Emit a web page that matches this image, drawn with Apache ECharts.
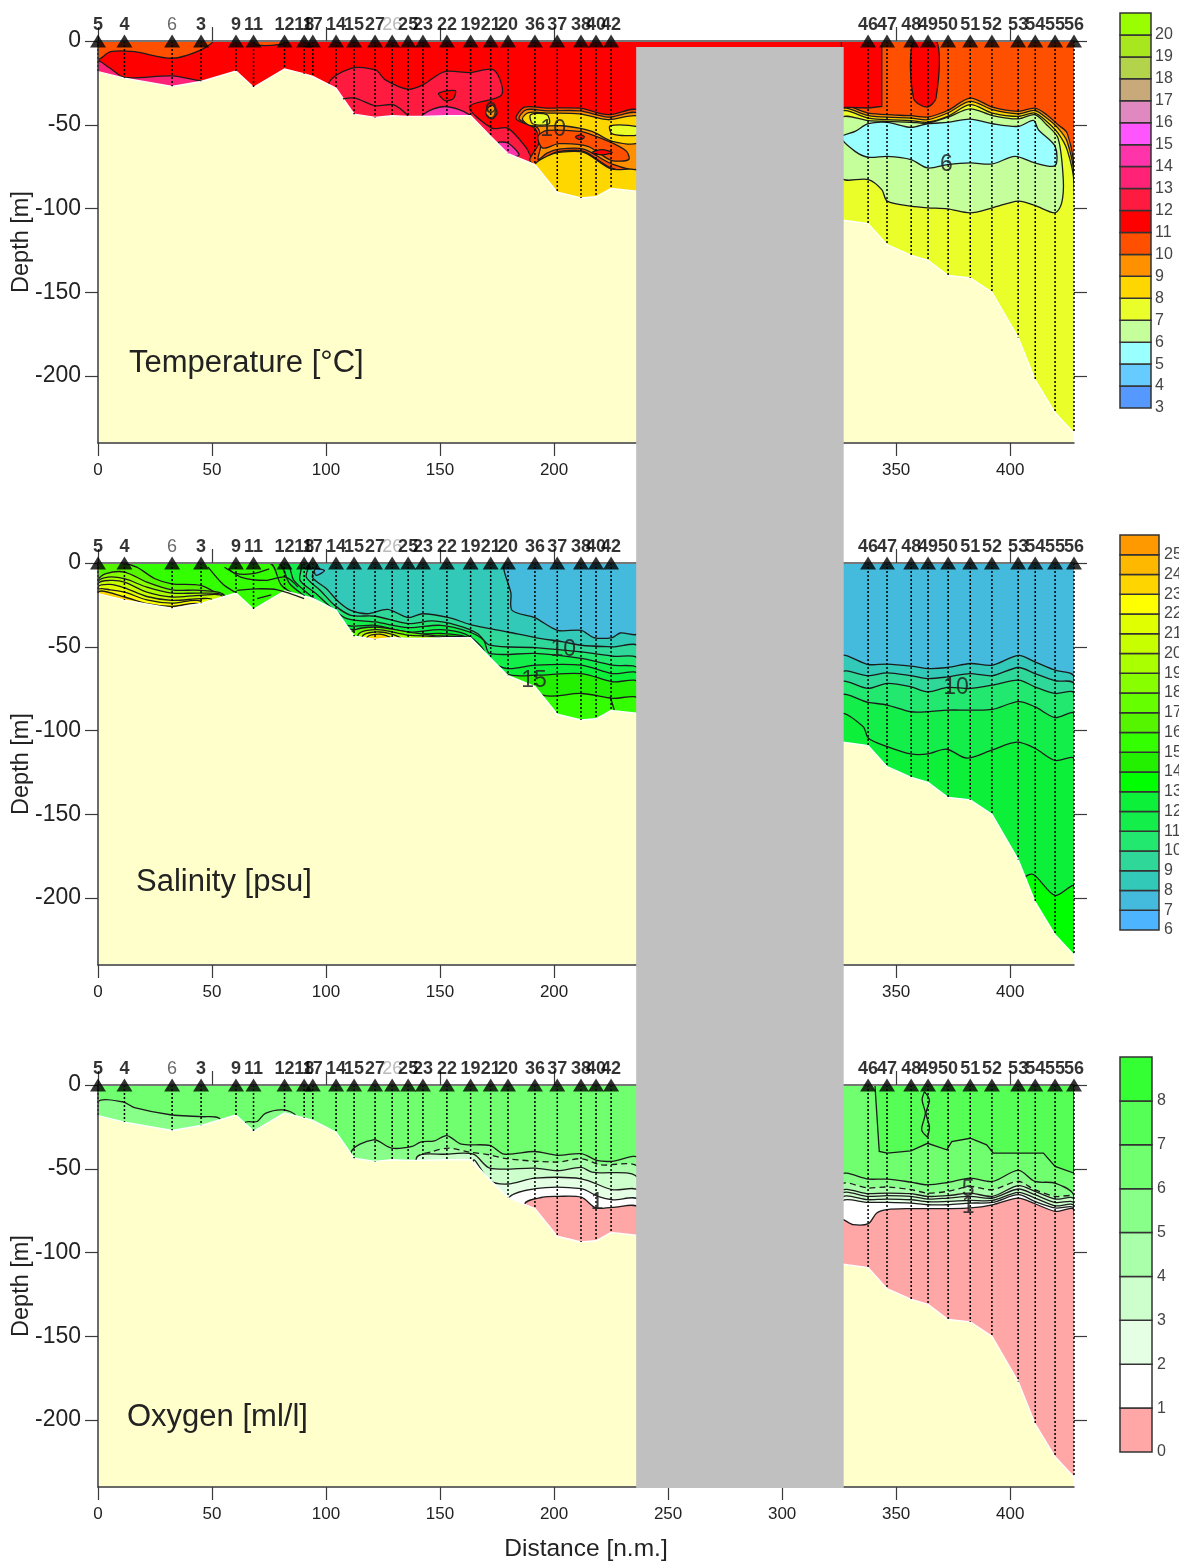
<!DOCTYPE html>
<html><head><meta charset="utf-8">
<style>html,body{margin:0;padding:0;background:#fff}#c{width:1179px;height:1562px}</style>
<script src="https://cdn.jsdelivr.net/npm/echarts@6/dist/echarts.min.js"></script>
</head><body><div id="c"></div>
<script>
// ---------- stations ----------
const stationLabels = ['5','4','6','3','9','11','12','18','17','14','15','27','26','25','23','22','19','21','20','36','37','38','40','42','46','47','48','49','50','51','52','53','54','55','56'];
const stationDist = [0,11.6,32.5,45.2,60.5,68.2,81.8,90.4,94.2,104.4,112.3,121.5,129,136,142.5,153,163.4,172.2,179.8,191.6,201.4,211.8,218.4,225,337.7,346,356.6,364,372.8,382.5,392,403.5,411,419.7,428];
const stationDepth = [18,22,27,24,18,27.5,16.7,19.6,21,28,43.7,45.6,44.6,45,45,44.6,44.6,57,67,73.8,90.3,93.7,93,88,109,121.6,128,131,140,141.4,150,177,202.5,222,234];
const seafloorDist = [0,11.6,32.5,45.2,60.5,68.2,81.8,90.4,94.2,104.4,112.3,121.5,129,136,142.5,153,163.4,172.2,179.8,191.6,201.4,211.8,218.4,225,236,326.8,337.7,346,356.6,364,372.8,382.5,392,403.5,411,419.7,428];
const seafloorDepth = [18.3,22.2,27.2,24.2,17.9,27.6,16.7,19.6,21.2,28.2,43.7,45.6,44.6,45,45,44.6,44.6,57,67.3,73.8,90.3,93.7,93,88,89.7,107,109,121.6,128,131,140,141.4,150,177,202.5,222,234];
const gapRange = [236, 327];
const xTicks = [0,50,100,150,200,250,300,350,400];
const xTopTicks = [0,50,100,150,200,350,400];
const yTicks = [0,-50,-100,-150,-200];

// ---------- legends (lowest level first) ----------
const tempLevels = [3,4,5,6,7,8,9,10,11,12,13,14,15,16,17,18,19,20];
const tempColors = ['#5599ff','#66ccff','#99ffff','#c4ff9c','#eaff2a','#ffd700','#ff9000','#ff5000','#ff0000','#ff1a40','#ff2277','#ff33aa','#ff55ff','#e088c0','#c8a97a','#b3d44a','#a8e61d','#99ff00'];
const salLevels = [6,7,8,9,10,11,12,13,14,15,16,17,18,19,20,21,22,23,24,25];
const salColors = ['#4db5ff','#44bbdd','#33c9b8','#2fd898','#22e870','#14ee4a','#0cf03a','#00ff00','#22f000','#33ff00','#55f500','#66ff00','#88ff00','#aaff00','#c8ff00','#e0ff00','#ffff00','#ffd500','#ffb800','#ff9900'];
const oxyLevels = [0,1,2,3,4,5,6,7,8];
const oxyColors = ['#ffa6a6','#ffffff','#e5ffe5','#ccffcc','#aaffaa','#88ff88','#6fff6f','#55ff55','#33ff33'];
const T = l => tempColors[tempLevels.indexOf(l)];
const S = l => salColors[salLevels.indexOf(l)];
const O = l => oxyColors[oxyLevels.indexOf(l)];

// ---------- temperature contours [distance, depth] ----------
const tempTopLeft10 = [[0,0],[50,0],[45,5.4],[32.5,10.3],[16,6.4],[5.5,6.4],[0,10.9]];
const tempSliver10 = [[68,0],[70,2.5],[80,2],[84,0]];
const tempLowLeft12 = [[0,12.3],[5,16],[11.6,21.8],[32.4,20.8],[45,23.8],[55,25],[55,40],[0,40]];
const tempBlob12 = [[101,26.2],[111,16.3],[121.7,17.3],[126,23.2],[136,28.8],[142.4,26.2],[152,18.3],[162.9,18.9],[173.6,17.3],[177,32.1],[162.9,39.1],[172.7,52],[179.7,52],[187.9,63.9],[189.7,68.8],[191.7,72.8],[191.7,100],[101,100]];
const tempLine13 = [[107.4,34.5],[112.7,34.1],[121.7,38.7],[129.7,38.1],[136,44.6]];
const tempLens14 = [[142.4,44],[152,39.1],[162.9,44],[162.9,50],[142.4,50]];
const tempIsland11 = [[149.4,31.2],[156.6,29.6],[156,34.1],[153,35.7],[151.2,34.7]];
const tempDiamond9 = [[172.7,38.1],[175,42.7],[172.7,46.6],[170,42.7]];
const tempPink14 = [[175.4,60.9],[179.7,60.9],[184.7,67.9],[180.7,68.8]];
const tempOuter10 = [[183.4,46.6],[187,39.5],[196.9,40.1],[211.2,40.1],[223.7,44],[237,41.7],[237,77.8],[225,75.8],[213,65.9],[202.2,65.9],[196.9,68.8],[191.7,73.8],[189.3,70.8],[193.3,60.9],[191.5,52]];
const tempShell9 = [[184.7,46.6],[187.9,41],[196.9,41.7],[211.2,41.7],[223.7,45.4],[237,43.5],[237,75.8],[225,73.2],[213,64.5],[202.2,64.5],[196.9,66.9],[193,70.8],[194.2,61.9],[192.9,52]];
const tempInner10 = [[192.9,57],[196.9,53.4],[211.2,54],[216.6,56],[225.5,60.9],[231.8,65.9],[232.7,70.8],[225,71.2],[214.8,62.9],[202.2,61.3],[195,63.9]];
const tempGold8 = [[186.1,46.6],[188.8,42.7],[196.9,43],[211.2,43.5],[223.7,47],[237,45],[237,60.5],[225.5,59.9],[216.6,54],[204,50.6],[189.7,50.6]];
const tempBlob7a = [[189.7,44],[196.9,44],[197.8,49.4],[190.6,49.4]];
const tempBlob7b = [[224.6,50.6],[237,51.4],[237,56],[225.5,55.4]];
const tempGoldBottom = [[191.7,73.8],[196.9,68.8],[202.2,66.5],[213,66.5],[225,76.4],[237,77.8],[237,100],[191.7,100]];
const tempSpotA = [[216.6,66.5],[221,64.9],[225.5,66.5],[221,68]];
const tempSpotB = [[209.4,57.3],[211.5,56],[213.3,57.3],[211.5,58.9]];
const tempRightNodes = [326,337.8,346.1,356.5,363.8,372.6,382.5,392.2,403.6,410.8,416,421,425,428];
const tempRight9 = [40,43,44,44.6,45.4,41.5,34.1,39.5,42,40.1,44,50,55,77];
const tempRight8 = [41.5,44.5,45.5,46,47,43,36,41,43.5,41.5,46,52,60,81];
const tempRight7 = [43,46,47,47.5,48.5,45,38,43,45,43,48,55,65,85];
const tempRight6Top = [46,47.5,48,48.5,49,45.5,40.5,44.5,46.5,44,50,58];
const tempRight6Low = [[423.3,82.7],[422.6,96.6],[419.7,102.6],[410.8,98.2],[403.6,95.6],[392.2,99.6],[382.5,102.6],[372.6,100.2],[363.8,99.6],[356.5,98.6],[346.1,95.6],[343.7,88.7],[337.8,82.7],[326,81.7]];
const tempCyan5 = [[326,57.5],[332,54],[337.8,49.4],[346.1,48.6],[356.5,51.6],[363.8,49.4],[372.6,48.6],[382.5,46.6],[392.2,49.4],[403.6,51],[410.2,47.4],[412.4,53],[419.7,62.9],[419.7,74.4],[410.8,72.8],[402.1,68.9],[392.2,73.4],[382.5,72.8],[372.6,73.8],[363.8,75.8],[356.5,70.8],[346.1,68.9],[337.8,69.4],[332,65.9]];
const tempRed11A = [[326,0],[343.7,0],[343.7,39.1],[337.8,40],[326,39.5]];
const tempRed11B = [[357.6,0],[367.8,0],[367.5,34.1],[363.4,39.5],[357.6,34.1]];
const tempNotes = [[172.4,43,'9'],[199.6,53,'10'],[372,73.8,'6']];

// ---------- salinity contours ----------
const salBlue7Left = [[179,0],[181.1,18.3],[181.6,28.3],[191.5,32.6],[201.5,40.2],[211.9,40.2],[217.4,44.5],[225.5,44.5],[229,41.8],[237,41.8],[237,0]];
const salSpot7 = [[94.8,3.5],[99.3,4.5],[95.7,7.4]];
const sal9 = [[95.7,0],[94,8.4],[100.2,15.4],[105.6,23.3],[110.9,28.3],[118.1,30.3],[127,27.7],[136,32.6],[142.4,30.3],[153.9,32.6],[162.9,36.6],[171.8,39.2],[179.7,41.2],[191.7,44.5],[204,47.1],[211.9,49.1],[225.5,50.1],[237,50.5]];
const sal10 = [[92.1,0],[91.3,8.4],[97.5,16.4],[103.8,25.3],[110.9,31.2],[121.7,31.8],[136,36.2],[146.7,34.6],[157.5,37.2],[166.4,42.1],[171.8,49.1],[191.7,50.5],[211.9,53],[225.5,55.6],[237,58]];
const sal11 = [[88.6,0],[88.6,10.4],[95.7,18.3],[102,26.3],[109.2,33.2],[121.7,35.2],[136,38.6],[150.3,37.2],[162.9,41.2],[169.1,46.1],[171.8,54],[191.7,54],[211.9,57],[225.5,61],[237,64]];
const sal12 = [[82.3,0],[85.9,10.4],[93,19.3],[100.2,27.3],[109.2,37.2],[121.7,37.2],[136,41.2],[150.3,39.8],[161.1,42.5],[168.2,50.1],[171.8,58.4],[179.7,63],[191.7,61],[211.9,61],[225.5,66],[237,67]];
const sal13 = [[78.7,0],[84.1,12.4],[91.3,20.3],[98.4,26.7],[109.2,39.2],[121.7,39.2],[136,42.5],[150.3,42.1],[161.1,44.1],[168.2,53],[179.7,66.4],[191.7,67],[211.9,66],[225.5,70.9],[237,71.9]];
const sal14 = [[75.1,0],[80.5,13.4],[89.5,21.3],[96.6,26.7],[110.9,41.2],[136,44.1],[161.1,45.1],[171.8,60],[195,78.9],[211.9,77.9],[225.5,80.8],[237,81.8]];
const salLens16 = [[0,0],[10.7,0],[17,2.5],[25,9.4],[32.4,12.4],[45.1,13.4],[53.7,19.3],[59,22.3],[60,40],[0,40]];
const salLens17 = [[0,10.4],[3.5,6.4],[11.6,5.4],[21.4,11.4],[32.4,16],[45.1,16.4],[55.5,19.3],[55.5,40],[0,40]];
const salLens18 = [[0,11.4],[4.4,8.4],[11.6,9.4],[21.4,14.4],[32.4,18],[45.1,18],[55.5,19.7],[55.5,40],[0,40]];
const salLens19 = [[0,12.4],[5.3,10.4],[11.6,11.4],[21.4,17.4],[32.4,20.3],[45.1,19.3],[54.6,20],[54.6,40],[0,40]];
const salLens20 = [[0,14.4],[5.3,12.8],[11.6,14.8],[21.4,20],[32.4,22.3],[45.1,21.3],[50,22],[50,40],[0,40]];
const salLens21 = [[0,16],[5.3,16],[11.6,17.4],[21.4,22],[32.4,24],[45.1,23],[45.1,40],[0,40]];
const salLens22 = [[0,17.4],[11.6,20.3],[21.4,24.3],[32.4,25.9],[45.1,24.7],[45.1,40],[0,40]];
const salMass16 = [[110.9,41.2],[121.7,38.2],[136,41.2],[150.3,43.7],[162.9,44.5],[162.9,50],[110.9,50]];
const salMass18 = [[114.5,42.1],[122.6,39.8],[136,43.1],[150.3,44.7],[150.3,50],[114.5,50]];
const salMass20 = [[116.3,43.1],[123.5,41.2],[132.4,44.5],[132.4,50],[116.3,50]];
const salMass22 = [[118.1,44.1],[123.5,42.5],[128.8,45.1],[128.8,50],[118.1,50]];
const salExtraA = [[57.2,3.5],[62.6,8.4],[73.4,10.4],[82.3,8.4],[87.7,14.4]];
const salExtraB = [[60.8,16.4],[68.9,15.4],[78.7,16],[90.4,21.3]];
const salExtraC = [[55.5,2.5],[60.8,6.4],[68,6.4],[75.1,3.5]];
const salExtraD = [[48.3,2.5],[54.6,12.4],[60,17.4]];
const salExtraE = [[69.8,21.3],[76,19]];
const salExtraF = [[224.6,79.8],[226.4,87.8]];
const rightNodes = [326,337.8,346.1,356.5,363.8,372.6,382.5,392.2,403.6,410.8,419.7,428];
const salRight8 = [56.4,60.6,60.4,61.6,63,62.4,60,61,55.1,59,64,68];
const salRight9 = [66,67.3,65.6,67.3,69,68,66,67.3,62.4,66,70.3,72.3];
const salRight10 = [71.9,74.9,71.9,73.9,76.9,74.3,74.9,72.9,69.9,73.9,77.9,77.9];
const salRight11 = [79.8,83.2,84.8,88.8,88.8,87.8,87.8,87.4,82.8,85.8,92.3,90.2];
const salRight12 = [[326,90.8],[335.6,97.7],[337.8,104.6],[346.1,109.6],[356.5,114],[363.8,114],[372.2,111.2],[381,116.5],[392.2,111.6],[402.9,107],[410.8,110.6],[419.7,117.9],[428,117.1]];
const salRight13 = [[406.5,188],[410.2,186],[419.7,198.5],[428,193]];
const salNotes = [[204,51.5,'10'],[191.2,70,'15'],[376.3,74.7,'10']];

// ---------- oxygen contours ----------
const oxyLeft5a = [[0,10.5],[10.7,10],[16,13.5],[32.4,17.9],[45.1,18.9],[53.7,20.8],[53.7,60],[0,60]];
const oxyLeft5b = [[64.4,22.8],[69.8,21.8],[73.4,16.9],[81.4,14.9],[86.8,18.9],[86.8,60],[64.4,60]];
const oxyLeft5c = [[110.9,40.7],[120.8,32.7],[128.8,37.7],[137.8,36.7],[141.4,34.1],[147.6,33.3],[153,30.2],[159.3,35.3],[171.8,36.1],[178.1,41.3],[191.5,39.7],[201.5,42],[211.9,41],[219.2,45.2],[225.5,45.6],[237,44],[237,120],[110.9,120]];
const oxyLeft4 = [[139.6,44],[146.7,39.7],[153.9,37.7],[162.9,40.1],[171.8,41.7],[179,44],[201.5,46],[211.9,44],[220.1,47.6],[237,49.6],[237,120],[139.6,120]];
const oxyLeft3 = [[139.6,44],[153,41.3],[164.6,41.3],[171.8,49.6],[191.7,49.6],[201.5,51.2],[211.9,49.2],[216.6,52],[237,56],[237,120],[139.6,120]];
const oxyLeft2 = [[164.6,45.2],[171.8,57.1],[179.7,59.1],[191.7,55.6],[211.9,56],[225.5,62.5],[237,63.5],[237,120],[164.6,120]];
const oxyLeft1 = [[179.7,68.5],[191.7,61.9],[211.9,61.9],[219.2,66.5],[225.5,68.5],[237,68.9],[237,120],[179.7,120]];
const oxyLeft0 = [[187,71.4],[195.1,67],[201.5,66.5],[211.9,67],[218.4,73.4],[225.5,73],[237,73.4],[237,120],[187,120]];
const oxyRight7 = [[340.7,0],[342.6,39.7],[346.1,40.7],[356.5,39.3],[363.8,34.8],[372.2,38.7],[374.4,33.8],[382.5,31.8],[389.7,35.7],[392.6,40.7],[414.6,40.7],[419.7,48.6],[428,52.6],[428,0]];
const oxyCellA = [[362.4,4],[364.6,9],[363.1,16.9],[364.6,24.8],[363.8,31.2]];
const oxyCellB = [[362.4,4],[361.4,9],[362.8,16.9],[361.2,26.8],[363.8,31.2]];
const oxyRight5 = [54.2,56.2,56.2,58,59.6,58.2,55.6,57.6,51,57.6,58.6,66.5];
const oxyRight4 = [60.1,61.5,60.9,62.5,64.5,63.5,60.6,62.5,57.6,62.5,66.5,67.5];
const oxyRight3 = [64.1,64.9,64.5,64.9,66.5,66.1,64.5,66.5,60.1,63.5,68.1,68.5];
const oxyRight2a = [65.7,66.5,66.1,66.5,68.1,67.5,66.5,67.5,62.1,65.5,70.1,70.9];
const oxyRight2 = [68.1,68.5,68.1,68.5,69.7,69.5,68.9,68.9,64.1,67.5,72.1,72.5];
const oxyRight1 = [70.5,70.1,70.1,70.5,71.5,71.5,70.5,70.1,65.5,69.5,73.4,74];
const oxyRight0 = [[326,80.8],[331.2,83.4],[337.8,82.8],[341.5,76.4],[346.1,74.4],[356.5,73.8],[363.8,73.8],[372.6,73.8],[382.5,73.4],[392.2,71.5],[403.6,67.5],[410.8,70.9],[419.7,75.4],[428,74.8]];
const oxyNotes = [[218.9,70,'1'],[381.6,62.5,'5'],[381.6,72.6,'1']];

// ---------- geometry of the page ----------
const panelTops = [41, 563, 1085];
const PH = 402, PL = 98, PW = 976;
const legends = [
  {top:13, h:395, left:1120, w:31, margin:4, levels:tempLevels, colors:tempColors},
  {top:535,h:395, left:1120, w:39, margin:5, levels:salLevels,  colors:salColors},
  {top:1057,h:395,left:1120, w:32, margin:5, levels:oxyLevels,  colors:oxyColors}
];

// ---------- helpers ----------
const zip = (xs, ds) => ds.map((d,i)=>[xs[i],d]);
const below = (line, deep) => [...line,[line[line.length-1][0],deep],[line[0][0],deep]];
const belowAll = line => [...line,[line[line.length-1][0],240],[0,240],[0,0]];
const STROKE = '#1c1c1c';
const SMOOTH = 0.3;
const series = [];
function poly(p, pts, fill, o) {
  o = o || {};
  series.push({type:'custom', xAxisIndex:p, yAxisIndex:p, z:2, silent:true, data:[[0,0]], clip:true,
    renderItem:(params,api)=>({type:'polygon', shape:{points:pts.map(q=>api.coord([q[0],-q[1]])), smooth:o.sharp?0:SMOOTH},
      style:{fill:fill, stroke:o.noStroke?null:(o.stroke||STROKE), lineWidth:o.lw||1.3, lineDash:o.dash||null}})});
}
function line(p, pts, o) {
  o = o || {};
  series.push({type:'custom', xAxisIndex:p, yAxisIndex:p, z:3, silent:true, data:[[0,0]], clip:true,
    renderItem:(params,api)=>({type:'polyline', shape:{points:pts.map(q=>api.coord([q[0],-q[1]])), smooth:SMOOTH},
      style:{fill:null, stroke:STROKE, lineWidth:o.lw||1.3, lineDash:o.dash||null}})});
}
function rect(p, x0, x1, color) { poly(p, [[x0,0],[x1,0],[x1,240],[x0,240]], color, {noStroke:true, sharp:true}); }
function notes(p, arr) {
  series.push({type:'custom', xAxisIndex:p, yAxisIndex:p, z:6, silent:true, data:arr.map(a=>[a[0],-a[1]]),
    renderItem:(params,api)=>{
      const c = api.coord([api.value(0),api.value(1)]);
      return {type:'text', style:{x:c[0],y:c[1],text:arr[params.dataIndex][2],fill:'#222',font:'23px "Liberation Sans"',align:'center',verticalAlign:'middle',opacity:0.85}};
    }});
}
const floorPoly = [[0,240],...seafloorDist.map((x,i)=>[x,seafloorDepth[i]]),[428,240]];
function finish(p) {
  poly(p, floorPoly, '#ffffcc', {stroke:'#ffffff', lw:1.4, sharp:true});
  // station casts
  series.push({type:'custom', xAxisIndex:p, yAxisIndex:p, z:5, silent:true, data:stationDist.map((x,i)=>[x,-stationDepth[i]]),
    renderItem:(params,api)=>{
      const a = api.coord([api.value(0),0]), b = api.coord([api.value(0),api.value(1)]);
      return {type:'line', shape:{x1:a[0],y1:a[1],x2:b[0],y2:b[1]}, style:{stroke:'#000',lineWidth:1.5,lineDash:[2,2]}};
    }});
  // station triangles with labels
  series.push({type:'scatter', xAxisIndex:p, yAxisIndex:p, z:12, silent:true, clip:false, symbol:'triangle', symbolSize:[16,13], symbolOffset:[0,0],
    itemStyle:{color:'#000'},
    data:stationDist.map((x,i)=>{
      const l = stationLabels[i];
      const weak = l==='6' ? {color:'#444',fontWeight:'normal'} : l==='26' ? {color:'#aaa',fontWeight:'normal'} : {};
      return {value:[x,0], label:Object.assign({show:true,formatter:l,position:'top',distance:0,color:'#000',fontSize:18,fontWeight:'bold',fontFamily:'"Liberation Sans"'},weak)};
    })});
}

// ---------- panel 0: temperature ----------
rect(0,0,428,T(11));
poly(0,tempTopLeft10,T(10)); poly(0,tempSliver10,T(10));
poly(0,tempLowLeft12,T(13));
poly(0,tempBlob12,T(12)); line(0,tempLine13);
poly(0,tempLens14,T(14)); poly(0,tempIsland11,T(11)); poly(0,tempDiamond9,T(9)); poly(0,tempPink14,T(14));
poly(0,tempOuter10,T(10)); poly(0,tempShell9,T(9)); poly(0,tempInner10,T(10)); poly(0,tempGold8,T(8));
poly(0,tempBlob7a,T(7)); poly(0,tempBlob7b,T(7)); poly(0,tempGoldBottom,T(8));
poly(0,tempSpotA,T(11)); poly(0,tempSpotB,T(11));
rect(0,326,428,T(10));
poly(0,below(zip(tempRightNodes,tempRight9),240),T(9));
poly(0,below(zip(tempRightNodes,tempRight8),240),T(8));
poly(0,below(zip(tempRightNodes,tempRight7),240),T(7));
poly(0,[...zip(tempRightNodes,tempRight6Top),...tempRight6Low],T(6));
poly(0,tempCyan5,T(5));
poly(0,tempRed11A,T(11),{sharp:true}); poly(0,tempRed11B,T(11));
finish(0); notes(0,tempNotes);

// ---------- panel 1: salinity ----------
rect(1,0,237,S(8));
poly(1,salBlue7Left,S(7)); poly(1,salSpot7,S(7));
poly(1,belowAll(sal9),S(9)); poly(1,belowAll(sal10),S(10)); poly(1,belowAll(sal11),S(11));
poly(1,belowAll(sal12),S(12)); poly(1,belowAll(sal13),S(14)); poly(1,belowAll(sal14),S(15));
poly(1,salLens16,S(16)); poly(1,salLens17,S(18)); poly(1,salLens18,S(19)); poly(1,salLens19,S(20));
poly(1,salLens20,S(21)); poly(1,salLens21,S(22)); poly(1,salLens22,S(23));
poly(1,salMass16,S(17)); poly(1,salMass18,S(19)); poly(1,salMass20,S(21)); poly(1,salMass22,S(23));
[salExtraA,salExtraB,salExtraC,salExtraD,salExtraE,salExtraF].forEach(l=>line(1,l));
rect(1,326,428,S(7));
poly(1,below(zip(rightNodes,salRight8),240),S(8));
poly(1,below(zip(rightNodes,salRight9),240),S(9));
poly(1,below(zip(rightNodes,salRight10),240),S(10));
poly(1,below(zip(rightNodes,salRight11),240),S(11));
poly(1,below(salRight12,240),S(12));
poly(1,below(salRight13,240),S(13));
finish(1); notes(1,salNotes);

// ---------- panel 2: oxygen ----------
rect(2,0,428,O(6));
poly(2,oxyLeft5a,O(5)); poly(2,oxyLeft5b,O(5)); poly(2,oxyLeft5c,O(5));
poly(2,oxyLeft4,O(4),{dash:[6,4]}); poly(2,oxyLeft3,O(3)); poly(2,oxyLeft2,O(2)); poly(2,oxyLeft1,O(1)); poly(2,oxyLeft0,O(0));
poly(2,oxyRight7,O(7),{sharp:true});
line(2,oxyCellA); line(2,oxyCellB);
poly(2,below(zip(rightNodes,oxyRight5),240),O(5));
poly(2,below(zip(rightNodes,oxyRight4),240),O(4),{dash:[6,4]});
poly(2,below(zip(rightNodes,oxyRight3),240),O(3));
poly(2,below(zip(rightNodes,oxyRight2a),240),O(3));
poly(2,below(zip(rightNodes,oxyRight2),240),O(2));
poly(2,below(zip(rightNodes,oxyRight1),240),O(1));
poly(2,below(oxyRight0,240),O(0));
finish(2); notes(2,oxyNotes);

// ---------- legends ----------
legends.forEach((L,k)=>{
  const ax = 6+k;
  series.push({type:'custom', xAxisIndex:ax, yAxisIndex:ax, z:2, silent:true,
    data:L.levels.map(v=>[0,v]),
    renderItem:(params,api)=>{
      const v = api.value(1);
      const a = api.coord([0,v+1]), b = api.coord([1,v]);
      return {type:'rect', shape:{x:a[0],y:a[1],width:b[0]-a[0],height:b[1]-a[1]},
        style:{fill:L.colors[params.dataIndex], stroke:'#333', lineWidth:1.5}};
    }});
});

// ---------- grey data gap ----------
series.push({type:'custom', xAxisIndex:9, yAxisIndex:9, z:20, silent:true, data:[[gapRange[0],0]],
  renderItem:(params,api)=>{
    const a = api.coord([gapRange[0],1]), b = api.coord([gapRange[1],0]);
    return {type:'rect', shape:{x:a[0],y:a[1],width:b[0]-a[0],height:b[1]-a[1]}, style:{fill:'#c0c0c0'}};
  }});

// ---------- axes ----------
const axisColor = '#3a3a3a';
const grid=[], xAxis=[], yAxis=[];
const gridBase = {outerBoundsMode:'none', containLabel:false};
panelTops.forEach(t=>grid.push({...gridBase,left:PL, top:t, width:PW, height:PH}));
panelTops.forEach(t=>grid.push({...gridBase,left:PL, top:t, width:PW, height:PH}));
legends.forEach(L=>grid.push({...gridBase,left:L.left, top:L.top, width:L.w, height:L.h}));
grid.push({...gridBase,left:PL, top:47, width:PW, height:1441});

panelTops.forEach((t,i)=>{
  xAxis.push({type:'value', gridIndex:i, position:'bottom', min:0, max:428, z:10, splitLine:{show:false},
    axisLine:{show:true,onZero:false,lineStyle:{color:axisColor,width:1.5}},
    axisTick:{show:true,length:13,customValues:xTicks,lineStyle:{color:axisColor,width:1.2}},
    axisLabel:{show:true,customValues:xTicks,fontSize:17,color:'#222',margin:19,fontFamily:'"Liberation Sans"'},
    name:i===2?'Distance [n.m.]':'', nameLocation:'middle', nameGap:50,
    nameTextStyle:{fontSize:24.5,color:'#222',fontFamily:'"Liberation Sans"'}});
  yAxis.push({type:'value', gridIndex:i, position:'left', min:-240, max:0, z:10, splitLine:{show:false},
    axisLine:{show:true,onZero:false,lineStyle:{color:axisColor,width:1.5}},
    axisTick:{show:true,length:13,customValues:yTicks,lineStyle:{color:axisColor,width:1.2}},
    axisLabel:{show:true,customValues:yTicks,fontSize:23,color:'#222',margin:17,fontFamily:'"Liberation Sans"'},
    name:'Depth [m]', nameLocation:'middle', nameRotate:90, nameGap:64, nameMoveOverlap:false,
    nameTextStyle:{fontSize:23.5,color:'#222',fontFamily:'"Liberation Sans"'}});
});
panelTops.forEach((t,i)=>{
  xAxis.push({type:'value', gridIndex:3+i, position:'top', min:0, max:428, z:10, splitLine:{show:false},
    axisLine:{show:true,onZero:false,lineStyle:{color:'#777',width:2}},
    axisTick:{show:true,length:14,customValues:xTopTicks,lineStyle:{color:axisColor,width:1.2}},
    axisLabel:{show:false}});
  yAxis.push({type:'value', gridIndex:3+i, position:'right', min:-240, max:0, z:10, splitLine:{show:false},
    axisLine:{show:true,onZero:false,lineStyle:{color:'rgba(0,0,0,0)',width:1}},
    axisTick:{show:true,length:13,customValues:yTicks,lineStyle:{color:axisColor,width:1.2}},
    axisLabel:{show:false}});
});
legends.forEach((L,k)=>{
  xAxis.push({type:'value', gridIndex:6+k, min:0, max:1, show:false});
  const top = L.levels[L.levels.length-1]+1;
  yAxis.push({type:'value', gridIndex:6+k, position:'right', min:L.levels[0], max:top, interval:1, splitLine:{show:false},
    axisLine:{show:false}, axisTick:{show:false},
    axisLabel:{show:true,color:'#444',fontSize:16,margin:L.margin,fontFamily:'"Liberation Sans"',
      formatter:v=>v===top?'':String(v)}});
});
xAxis.push({type:'value', gridIndex:9, min:0, max:428, show:false});
yAxis.push({type:'value', gridIndex:9, min:0, max:1, show:false});

const titleFont = {fontSize:31,fontWeight:'normal',color:'#222',fontFamily:'"Liberation Sans"'};
const chart = echarts.init(document.getElementById('c'), null, {renderer:'canvas'});
chart.setOption({
  animation:false, backgroundColor:'#fff',
  title:[
    {text:'Temperature [°C]', left:129, top:348, textStyle:titleFont, padding:0, z:8},
    {text:'Salinity [psu]', left:136, top:867, textStyle:titleFont, padding:0, z:8},
    {text:'Oxygen [ml/l]', left:127, top:1402, textStyle:titleFont, padding:0, z:8}
  ],
  grid, xAxis, yAxis, series
});
</script></body></html>
